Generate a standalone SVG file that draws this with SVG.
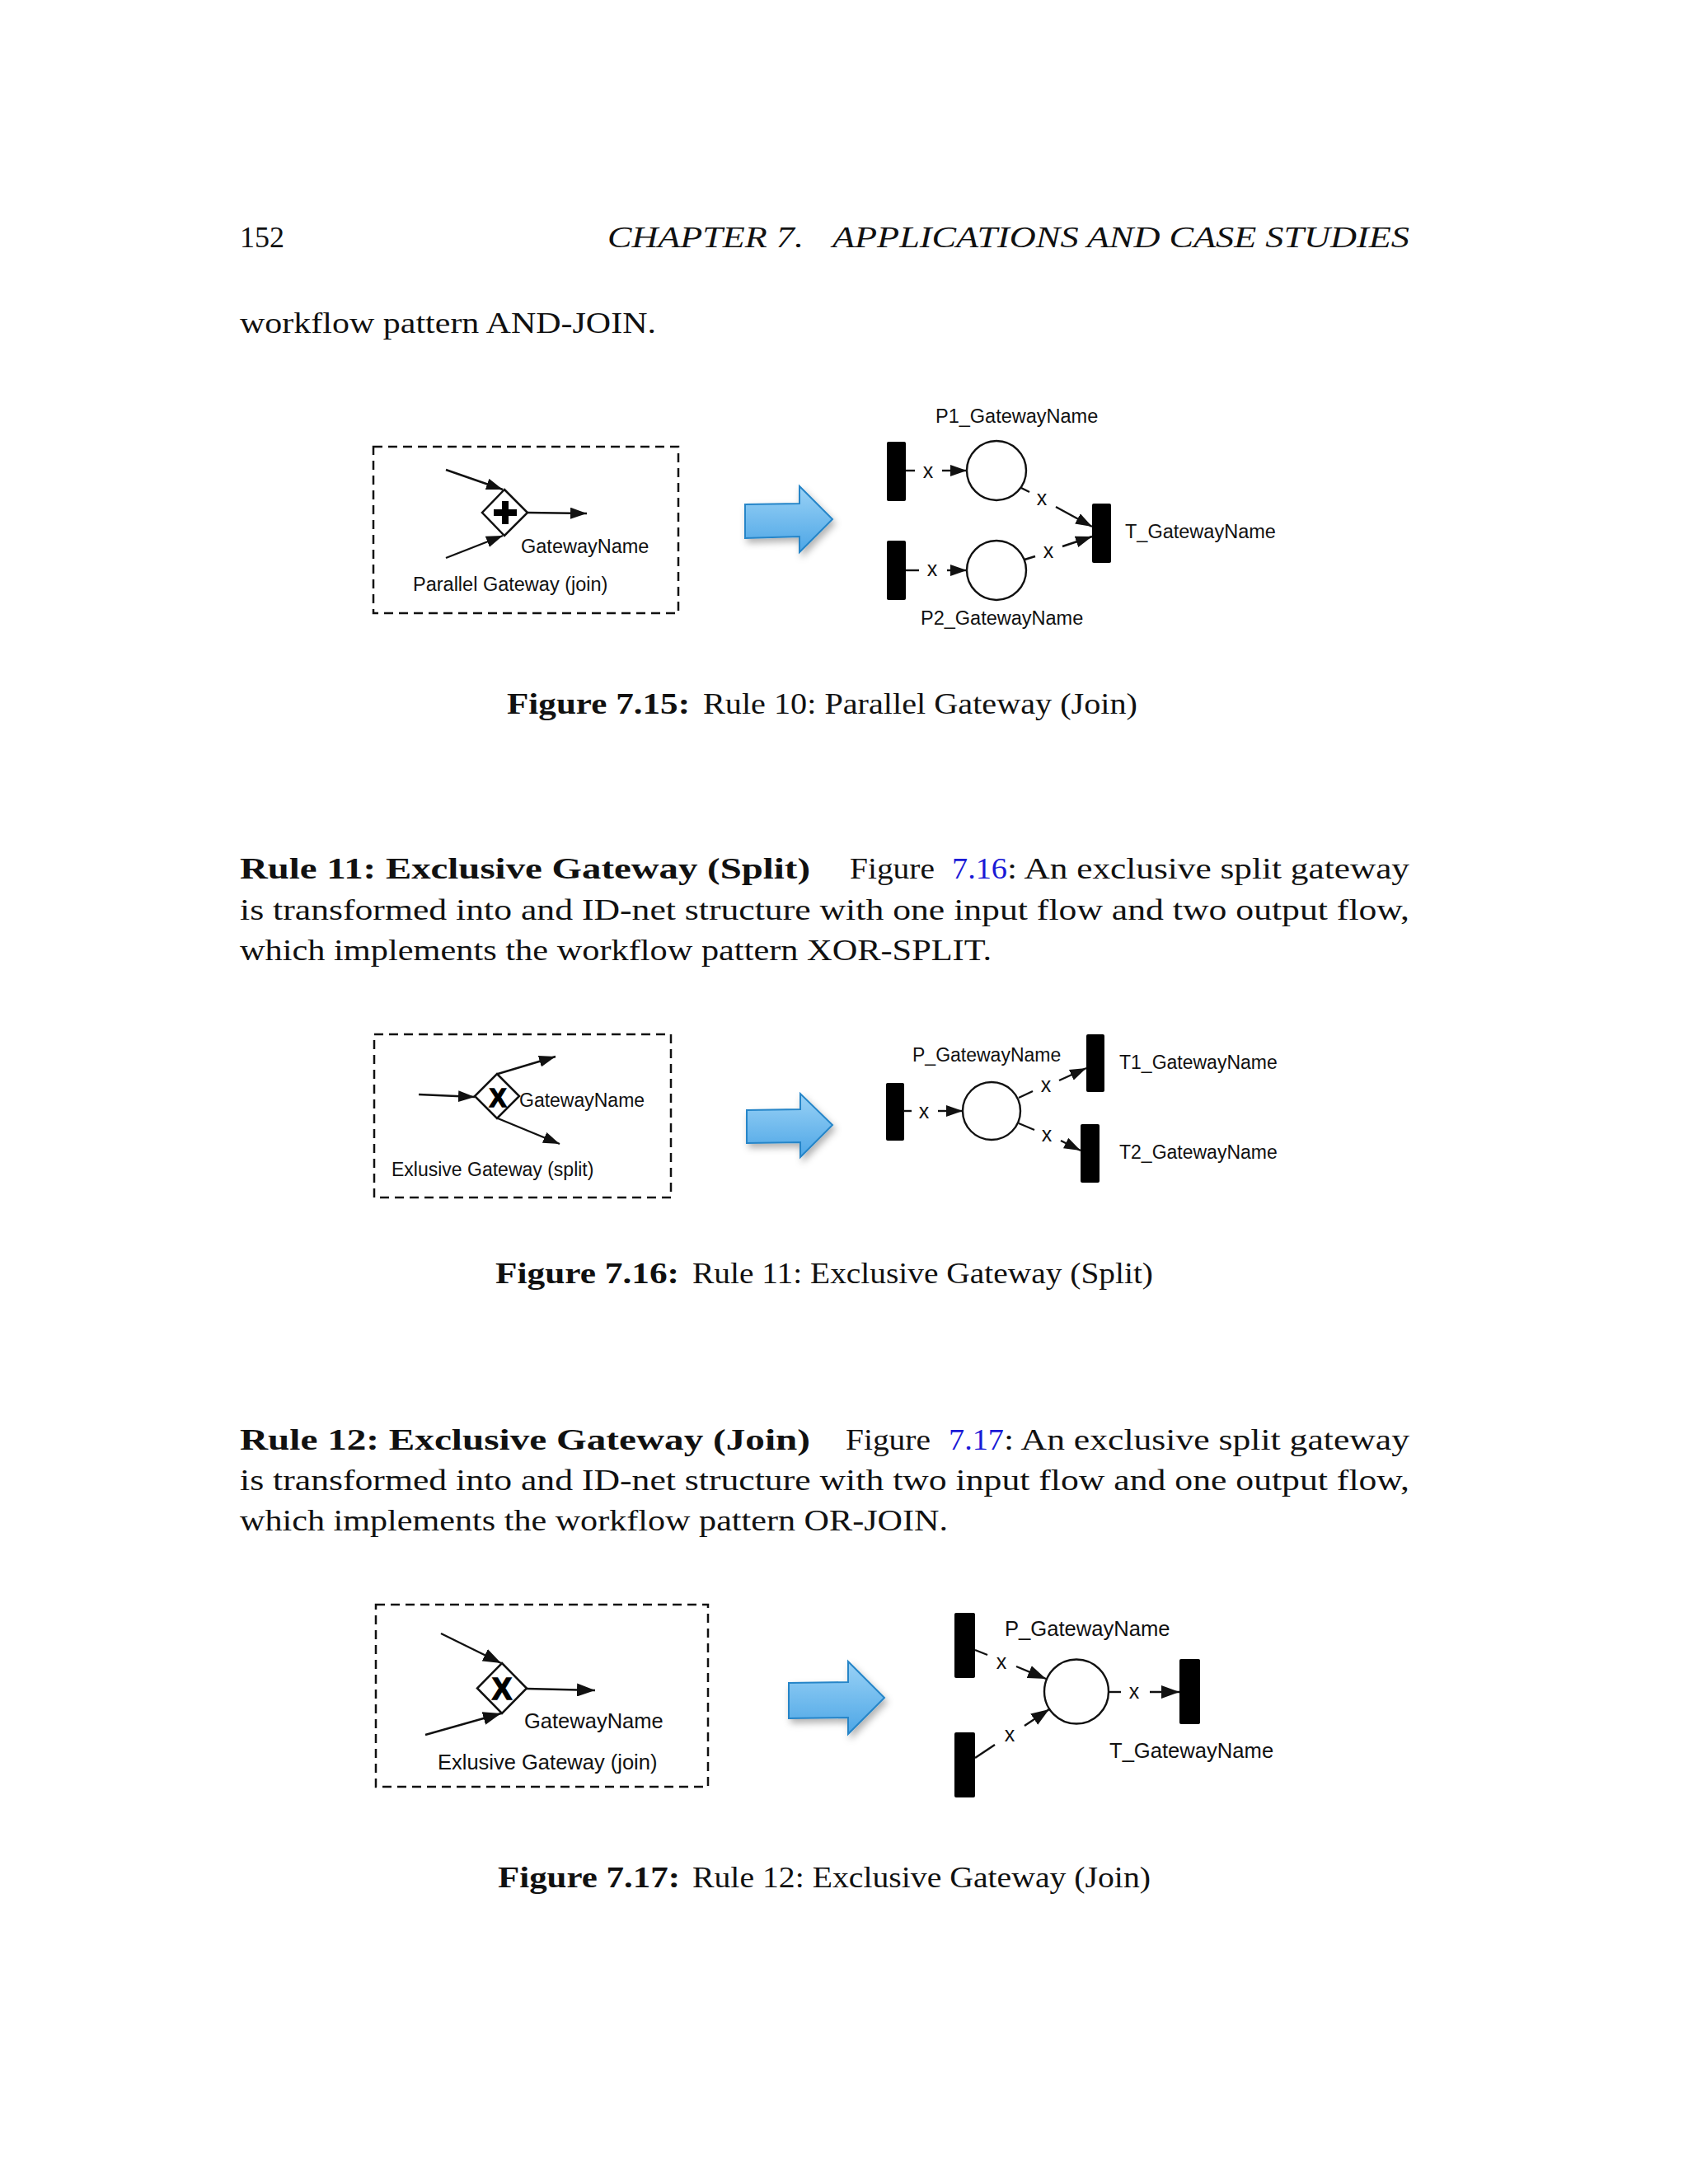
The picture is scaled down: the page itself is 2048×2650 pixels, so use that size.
<svg xmlns="http://www.w3.org/2000/svg" width="2048" height="2650" viewBox="0 0 2048 2650">
<style>
.pg{font-family:"Liberation Serif","Times New Roman",serif;font-size:36px;fill:#111}
.b{font-weight:bold}
.it{font-style:italic}
.lnk{fill:#1a1ad6}
.lbl{font-family:"Liberation Sans",Arial,sans-serif;fill:#111}
.xl{font-family:"Liberation Sans",Arial,sans-serif;font-size:25px;fill:#111;text-anchor:middle}
.gx{font-family:"Liberation Sans",Arial,sans-serif;font-weight:bold;text-anchor:middle;fill:#000;stroke:#000;stroke-width:1.6}
.box{fill:none;stroke:#111;stroke-width:2.5;stroke-dasharray:11 7}
.dia{fill:#fff;stroke:#111;stroke-width:2.5}
.flow{stroke:#111;stroke-width:2.4;fill:none}
.arr{marker-end:url(#ah)}
.arrL{marker-end:url(#ahL)}
.bar{fill:#000}
.place{fill:#fff;stroke:#111;stroke-width:2.4}
.big{fill:url(#blue);stroke:#2585c8;stroke-width:2;filter:url(#sh)}
</style>
<defs>
<marker id="ah" markerUnits="userSpaceOnUse" markerWidth="20" markerHeight="14" refX="20" refY="7" orient="auto">
<path d="M0,0 L20,7 L0,14 z" fill="#111"/>
</marker>
<marker id="ahL" markerUnits="userSpaceOnUse" markerWidth="22" markerHeight="16" refX="22" refY="8" orient="auto">
<path d="M0,0 L22,8 L0,16 z" fill="#111"/>
</marker>
<linearGradient id="blue" x1="0" y1="0" x2="0" y2="1">
<stop offset="0" stop-color="#9ad2f6"/>
<stop offset="1" stop-color="#4da6e6"/>
</linearGradient>
<filter id="sh" x="-20%" y="-20%" width="150%" height="160%">
<feDropShadow dx="3" dy="5" stdDeviation="4" flood-color="#000" flood-opacity="0.3"/>
</filter>
</defs>
<rect width="2048" height="2650" fill="#fff"/>

<!-- page text -->
<g id="page-text">
<text class="pg" x="291" y="300" textLength="54" lengthAdjust="spacingAndGlyphs">152</text>
<text class="pg it" x="737" y="300" textLength="238" lengthAdjust="spacingAndGlyphs">CHAPTER 7.</text>
<text class="pg it" x="1010" y="300" textLength="700" lengthAdjust="spacingAndGlyphs">APPLICATIONS AND CASE STUDIES</text>
<text class="pg" x="291" y="404" textLength="505" lengthAdjust="spacingAndGlyphs">workflow pattern AND-JOIN.</text>

<text class="pg b" x="615" y="866" textLength="222" lengthAdjust="spacingAndGlyphs">Figure 7.15:</text>
<text class="pg" x="853" y="866" textLength="527" lengthAdjust="spacingAndGlyphs">Rule 10: Parallel Gateway (Join)</text>

<text class="pg b" x="291" y="1066" textLength="692" lengthAdjust="spacingAndGlyphs">Rule 11: Exclusive Gateway (Split)</text>
<text class="pg" x="1031" y="1066" textLength="103" lengthAdjust="spacingAndGlyphs">Figure</text>
<text class="pg lnk" x="1155" y="1066" textLength="67" lengthAdjust="spacingAndGlyphs">7.16</text>
<text class="pg" x="1222" y="1066" textLength="488" lengthAdjust="spacingAndGlyphs">: An exclusive split gateway</text>
<text class="pg" x="291" y="1116" textLength="1419" lengthAdjust="spacingAndGlyphs">is transformed into and ID-net structure with one input flow and two output flow,</text>
<text class="pg" x="291" y="1165" textLength="912" lengthAdjust="spacingAndGlyphs">which implements the workflow pattern XOR-SPLIT.</text>

<text class="pg b" x="601" y="1557" textLength="223" lengthAdjust="spacingAndGlyphs">Figure 7.16:</text>
<text class="pg" x="840" y="1557" textLength="559" lengthAdjust="spacingAndGlyphs">Rule 11: Exclusive Gateway (Split)</text>

<text class="pg b" x="291" y="1759" textLength="692" lengthAdjust="spacingAndGlyphs">Rule 12: Exclusive Gateway (Join)</text>
<text class="pg" x="1026" y="1759" textLength="103" lengthAdjust="spacingAndGlyphs">Figure</text>
<text class="pg lnk" x="1151" y="1759" textLength="67" lengthAdjust="spacingAndGlyphs">7.17</text>
<text class="pg" x="1218" y="1759" textLength="492" lengthAdjust="spacingAndGlyphs">: An exclusive split gateway</text>
<text class="pg" x="291" y="1808" textLength="1419" lengthAdjust="spacingAndGlyphs">is transformed into and ID-net structure with two input flow and one output flow,</text>
<text class="pg" x="291" y="1857" textLength="859" lengthAdjust="spacingAndGlyphs">which implements the workflow pattern OR-JOIN.</text>

<text class="pg b" x="604" y="2290" textLength="221" lengthAdjust="spacingAndGlyphs">Figure 7.17:</text>
<text class="pg" x="840" y="2290" textLength="556" lengthAdjust="spacingAndGlyphs">Rule 12: Exclusive Gateway (Join)</text>
</g>

<!-- ===== Figure 7.15 ===== -->
<g id="fig715-bpmn">
<rect class="box" x="453" y="542" width="370" height="202"/>
<polygon class="dia" points="612,594 640,622 612,650 585,622"/>
<path d="M613,608 V636 M599,622 H627" stroke="#000" stroke-width="8"/>
<text class="lbl" x="632" y="671" font-size="23.5">GatewayName</text>
<text class="lbl" x="501" y="717" font-size="23.5">Parallel Gateway (join)</text>
</g>
<path id="fig715-transform" class="big" d="M904,612 L970,611 L970,590 L1010,630 L970,670 L970,651 L904,653 Z"/>
<g id="fig715-T1in"><rect class="bar" x="1076" y="536" width="23" height="72" rx="2"/></g>
<g id="fig715-T2in"><rect class="bar" x="1076" y="656" width="23" height="72" rx="2"/></g>
<g id="fig715-P1"><circle class="place" cx="1209" cy="571" r="36"/><text class="lbl" x="1135" y="513" font-size="23.5">P1_GatewayName</text></g>
<g id="fig715-P2"><circle class="place" cx="1209" cy="692" r="36"/><text class="lbl" x="1117" y="758" font-size="23.5">P2_GatewayName</text></g>
<g id="fig715-T"><rect class="bar" x="1325" y="611" width="23" height="72" rx="2"/><text class="lbl" x="1365" y="653" font-size="23.5">T_GatewayName</text></g>

<!-- ===== Figure 7.16 ===== -->
<g id="fig716-bpmn">
<rect class="box" x="454" y="1255" width="360" height="198"/>
<polygon class="dia" points="603,1303 630,1330 603,1357 576,1330"/>
<text class="gx" x="604" y="1343" font-size="31">X</text>
<text class="lbl" x="630" y="1343" font-size="23">GatewayName</text>
<text class="lbl" x="475" y="1427" font-size="23">Exlusive Gateway (split)</text>
</g>
<path id="fig716-transform" class="big" d="M906,1347 L971,1346 L971,1327 L1010,1365 L971,1404 L971,1386 L906,1387 Z"/>
<g id="fig716-Tin"><rect class="bar" x="1075" y="1314" width="22" height="70" rx="2"/></g>
<g id="fig716-P"><circle class="place" cx="1203" cy="1348" r="35"/><text class="lbl" x="1107" y="1288" font-size="23">P_GatewayName</text></g>
<g id="fig716-T1"><rect class="bar" x="1318" y="1255" width="22" height="70" rx="2"/><text class="lbl" x="1358" y="1297" font-size="23">T1_GatewayName</text></g>
<g id="fig716-T2"><rect class="bar" x="1311" y="1364" width="23" height="71" rx="2"/><text class="lbl" x="1358" y="1406" font-size="23">T2_GatewayName</text></g>

<!-- ===== Figure 7.17 ===== -->
<g id="fig717-bpmn">
<rect class="box" x="456" y="1947" width="403" height="221"/>
<polygon class="dia" points="609,2018 639,2048.5 609,2079 579,2048.5"/>
<text class="gx" x="609" y="2062" font-size="36">X</text>
<text class="lbl" x="636" y="2097" font-size="25.5">GatewayName</text>
<text class="lbl" x="531" y="2147" font-size="25.5">Exlusive Gateway (join)</text>
</g>
<path id="fig717-transform" class="big" d="M957,2042 L1029,2041 L1029,2016 L1073,2060 L1029,2104 L1029,2084 L957,2085 Z"/>
<g id="fig717-T1in"><rect class="bar" x="1158" y="1957" width="25" height="79" rx="2"/></g>
<g id="fig717-T2in"><rect class="bar" x="1158" y="2102" width="25" height="79" rx="2"/></g>
<g id="fig717-P"><circle class="place" cx="1306" cy="2052.5" r="39"/><text class="lbl" x="1219" y="1985" font-size="25.6">P_GatewayName</text></g>
<g id="fig717-T"><rect class="bar" x="1431" y="2013" width="25" height="79" rx="2"/><text class="lbl" x="1346" y="2133" font-size="25.6">T_GatewayName</text></g>

<!-- ===== connectors ===== -->
<g id="connectors">
<!-- 7.15 BPMN -->
<line class="flow arr" x1="541" y1="570" x2="610" y2="594"/>
<line class="flow arr" x1="541" y1="677" x2="610" y2="650"/>
<line class="flow arr" x1="640" y1="622" x2="712" y2="623"/>
<!-- 7.15 net -->
<line class="flow" x1="1099" y1="571" x2="1110" y2="571"/>
<text class="xl" x="1126" y="580">x</text>
<line class="flow arr" x1="1143" y1="571" x2="1173" y2="571"/>
<line class="flow" x1="1239" y1="592" x2="1249" y2="597"/>
<text class="xl" x="1264" y="613">x</text>
<line class="flow arr" x1="1281" y1="615" x2="1325" y2="639"/>
<line class="flow" x1="1099" y1="692" x2="1115" y2="692"/>
<text class="xl" x="1131" y="699">x</text>
<line class="flow arr" x1="1149" y1="692" x2="1173" y2="692"/>
<line class="flow" x1="1243" y1="679" x2="1256" y2="675"/>
<text class="xl" x="1272" y="677">x</text>
<line class="flow arr" x1="1289" y1="663" x2="1325" y2="651"/>
<!-- 7.16 BPMN -->
<line class="flow arr" x1="508" y1="1328" x2="576" y2="1331"/>
<line class="flow arr" x1="604" y1="1303" x2="674" y2="1282"/>
<line class="flow arr" x1="604" y1="1357" x2="679" y2="1388"/>
<!-- 7.16 net -->
<line class="flow" x1="1096" y1="1348" x2="1106" y2="1348"/>
<text class="xl" x="1121" y="1357">x</text>
<line class="flow arr" x1="1138" y1="1348" x2="1168" y2="1348"/>
<line class="flow" x1="1236" y1="1332" x2="1253" y2="1324"/>
<text class="xl" x="1269" y="1325">x</text>
<line class="flow arr" x1="1285" y1="1311" x2="1318" y2="1296"/>
<line class="flow" x1="1236" y1="1363" x2="1255" y2="1371"/>
<text class="xl" x="1270" y="1385">x</text>
<line class="flow arr" x1="1287" y1="1384" x2="1311" y2="1396"/>
<!-- 7.17 BPMN -->
<line class="flow arrL" x1="535" y1="1982" x2="608" y2="2018"/>
<line class="flow arrL" x1="516" y1="2105" x2="608" y2="2079"/>
<line class="flow arrL" x1="639" y1="2049" x2="722" y2="2051"/>
<!-- 7.17 net -->
<line class="flow" x1="1183" y1="2002" x2="1198" y2="2008"/>
<text class="xl" x="1215" y="2025" font-size="27">x</text>
<line class="flow arrL" x1="1233" y1="2022" x2="1269" y2="2037"/>
<line class="flow" x1="1183" y1="2133" x2="1207" y2="2117"/>
<text class="xl" x="1225" y="2113" font-size="27">x</text>
<line class="flow arrL" x1="1243" y1="2094" x2="1273" y2="2074"/>
<line class="flow" x1="1345" y1="2053" x2="1360" y2="2053"/>
<text class="xl" x="1376" y="2061" font-size="27">x</text>
<line class="flow arrL" x1="1395" y1="2053" x2="1431" y2="2053"/>
</g>
</svg>
